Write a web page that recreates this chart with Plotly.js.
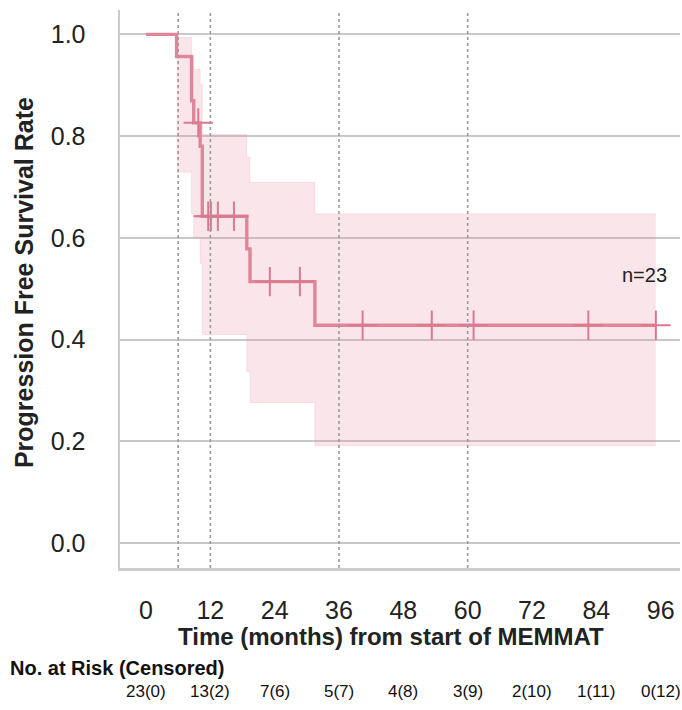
<!DOCTYPE html>
<html>
<head>
<meta charset="utf-8">
<script src="https://cdn.plot.ly/plotly-3.0.1.min.js"></script>
<style>
  html, body { margin: 0; padding: 0; background: #ffffff; }
  #chart { width: 682px; height: 710px; }
</style>
</head>
<body>
<div id="chart"></div>
<script>
// Kaplan-Meier step curve (time in months, survival rate)
const kmTimes = [0, 5.7, 8.5, 8.9, 10.1, 10.5, 18.8, 19.4, 31.5, 95.1];
const kmSurv  = [1.0, 0.9565, 0.8696, 0.8261, 0.7802, 0.6425, 0.5783, 0.5140, 0.4283, 0.4283];

// Confidence band (steps)
const ciTimes = [5.7, 8.5, 8.9, 10.1, 10.5, 18.8, 19.4, 31.5, 95.1];
const ciLower = [0.729, 0.648, 0.601, 0.550, 0.410, 0.337, 0.276, 0.192, 0.192];
const ciUpper = [0.994, 0.956, 0.931, 0.902, 0.803, 0.758, 0.709, 0.647, 0.647];

// Censored observations
const censorTimes = [9.75, 11.6, 12.1, 13.4, 16.4, 23.1, 28.7, 40.4, 53.3, 61.1, 82.5, 95.1];
const censorSurv  = [0.8261, 0.6425, 0.6425, 0.6425, 0.6425, 0.5140, 0.5140, 0.4283, 0.4283, 0.4283, 0.4283, 0.4283];

// Reference (dotted) vertical lines
const refLines = [6, 12, 36, 60];

// Axis ticks
const xTicks = [0, 12, 24, 36, 48, 60, 72, 84, 96];
const yTicks = [0.0, 0.2, 0.4, 0.6, 0.8, 1.0];

// Numbers at risk (censored)
const riskLabels = ["23(0)", "13(2)", "7(6)", "5(7)", "4(8)", "3(9)", "2(10)", "1(11)", "0(12)"];

const lineColor = "#e0869a";
const bandColor = "rgba(232,140,158,0.22)";
const font = "Liberation Sans, Arial, Helvetica, sans-serif";

const traces = [
  {
    x: ciTimes, y: ciLower, type: "scatter", mode: "lines",
    line: { shape: "hv", width: 0.8, color: "rgba(232,140,158,0.25)" },
    hoverinfo: "skip", showlegend: false
  },
  {
    x: ciTimes, y: ciUpper, type: "scatter", mode: "lines",
    line: { shape: "hv", width: 0.8, color: "rgba(232,140,158,0.25)" },
    fill: "tonexty", fillcolor: bandColor,
    hoverinfo: "skip", showlegend: false
  },
  {
    x: kmTimes, y: kmSurv, type: "scatter", mode: "lines",
    line: { shape: "hv", width: 3.4, color: lineColor },
    showlegend: false
  },
  {
    x: censorTimes, y: censorSurv, type: "scatter", mode: "markers",
    marker: { symbol: "cross-thin", size: 21, line: { width: 2, color: "#d97a90" }, color: "#d97a90" },
    showlegend: false
  }
];

const shapes = refLines.map(v => ({
  type: "line", xref: "x", yref: "paper", x0: v, x1: v, y0: 0, y1: 1,
  line: { color: "#9a9a9a", width: 1.6, dash: "dot" }, layer: "above"
}));

const annotations = [
  {
    text: "n=23", xref: "x", yref: "y", x: 88.4, y: 0.527,
    xanchor: "left", yanchor: "middle", showarrow: false,
    font: { family: font, size: 20, color: "#222222" }
  },
  {
    text: "<b>Progression Free Survival Rate</b>", xref: "paper", yref: "paper",
    x: -0.171, y: 0.511, xanchor: "center", yanchor: "middle", textangle: -90,
    showarrow: false, font: { family: font, size: 25, color: "#222222" }
  },
  {
    text: "<b>Time (months) from start of MEMMAT</b>", xref: "paper", yref: "paper",
    x: 0.484, y: -0.123, xanchor: "center", yanchor: "middle",
    showarrow: false, font: { family: font, size: 24, color: "#222222" }
  },
  {
    text: "<b>No. at Risk (Censored)</b>", xref: "paper", yref: "paper",
    x: -0.2, y: -0.179, xanchor: "left", yanchor: "middle",
    showarrow: false, font: { family: font, size: 20, color: "#111111" }
  }
];

riskLabels.forEach((lab, i) => {
  annotations.push({
    text: lab, xref: "x", yref: "paper", x: xTicks[i], y: -0.222,
    xanchor: "center", yanchor: "middle", showarrow: false,
    font: { family: font, size: 17, color: "#111111" }
  });
});

const layout = {
  width: 682, height: 710,
  margin: { l: 120, r: 2, t: 10, b: 142 },
  paper_bgcolor: "#ffffff", plot_bgcolor: "#ffffff",
  font: { family: font, color: "#222222" },
  xaxis: {
    range: [-4.85, 99.6], tickvals: xTicks, ticktext: xTicks.map(String),
    showgrid: false, zeroline: false, showline: true, linecolor: "#cccccc", linewidth: 2.5,
    ticks: "", ticklabelstandoff: 18,
    tickfont: { family: font, size: 25, color: "#222222" }
  },
  yaxis: {
    range: [-0.049, 1.048], tickvals: yTicks, tickformat: ".1f",
    showgrid: true, gridcolor: "#c8c8c8", gridwidth: 2,
    zeroline: false, showline: true, linecolor: "#cccccc", linewidth: 2.5,
    ticks: "", ticklabelstandoff: 27,
    tickfont: { family: font, size: 25, color: "#222222" }
  },
  shapes: shapes,
  annotations: annotations,
  showlegend: false
};

Plotly.newPlot("chart", traces, layout, { displayModeBar: false, staticPlot: true });
</script>
</body>
</html>
